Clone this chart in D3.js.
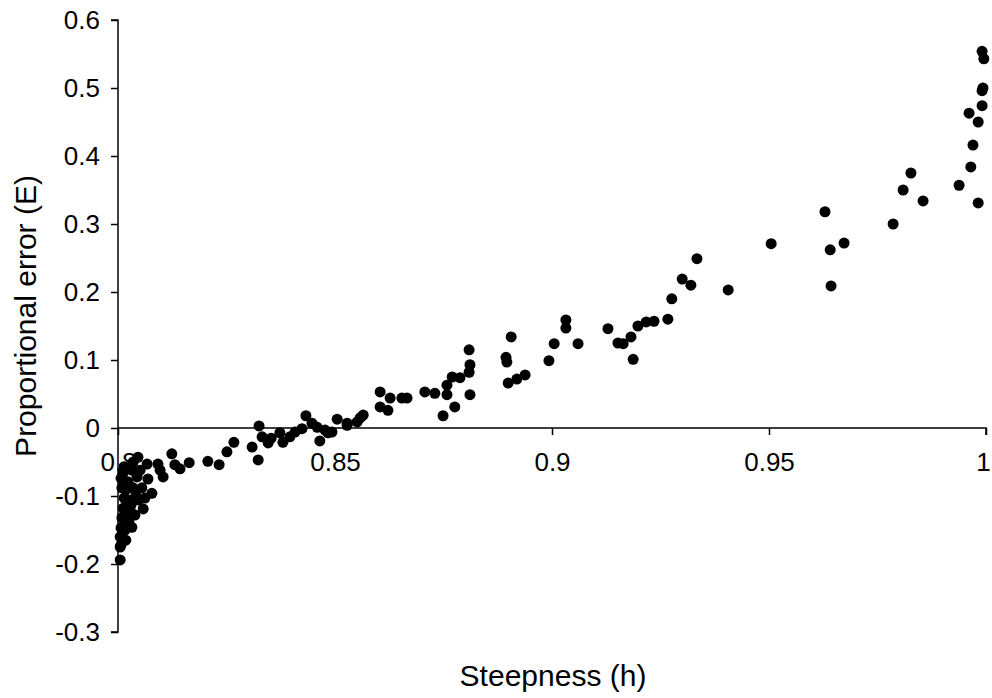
<!DOCTYPE html>
<html>
<head>
<meta charset="utf-8">
<script src="https://cdn.jsdelivr.net/npm/d3@7"></script>
<style>
  html, body { margin: 0; padding: 0; background: #fff; }
  svg { display: block; }
  text { font-family: "Liberation Sans", Arial, sans-serif; fill: #000; }
</style>
</head>
<body>
<script>
// Steepness (h) of each sample
const steepness = [
  0.9991, 0.9995, 0.9993, 0.9991, 0.9991, 0.9961, 0.9982, 0.9970, 0.9965, 0.9938,
  0.9982, 0.9827, 0.9809, 0.9855, 0.9786, 0.9629, 0.9505, 0.9673, 0.9641, 0.9643,
  0.9406, 0.9334, 0.9300, 0.9320, 0.9276, 0.9267, 0.9235, 0.9217, 0.9198, 0.9182,
  0.9129, 0.9152, 0.9164, 0.9187, 0.9032, 0.9032, 0.9005, 0.9060, 0.8993, 0.8906,
  0.8894, 0.8896, 0.8899, 0.8919, 0.8938, 0.8809, 0.8811, 0.8809, 0.8788, 0.8770,
  0.8758, 0.8758, 0.8811, 0.8776, 0.8749, 0.8730, 0.8707, 0.8666, 0.8654, 0.8604,
  0.8627, 0.8604, 0.8622, 0.8565, 0.8558, 0.8528, 0.8207, 0.8233, 0.8251, 0.8267,
  0.8309, 0.8323, 0.8325, 0.8332, 0.8346, 0.8353, 0.8373, 0.8380, 0.8396, 0.8408,
  0.8424, 0.8433, 0.8447, 0.8459, 0.8465, 0.8477, 0.8484, 0.8493, 0.8505, 0.8528,
  0.8551, 0.8046, 0.8067, 0.8092, 0.8124, 0.8131, 0.8143, 0.8164, 0.8097, 0.8104,
  0.8012, 0.8032, 0.8044, 0.8069, 0.8078, 0.8058, 0.8032, 0.8005, 0.8005, 0.8005,
  0.8007, 0.8009, 0.8012, 0.8014, 0.8009, 0.8018, 0.8023, 0.8028, 0.8021, 0.8016,
  0.8023, 0.8035, 0.8041, 0.8030, 0.8048, 0.8055, 0.8039, 0.8025, 0.8051, 0.8007,
  0.8014, 0.8035, 0.8062, 0.8007, 0.8018
];

// Proportional error (E) of each sample
const propError = [
  0.554, 0.543, 0.500, 0.496, 0.474, 0.463, 0.450, 0.416, 0.384, 0.357,
  0.331, 0.375, 0.350, 0.334, 0.300, 0.318, 0.271, 0.272, 0.262, 0.209,
  0.203, 0.249, 0.219, 0.210, 0.190, 0.160, 0.157, 0.156, 0.150, 0.134,
  0.146, 0.125, 0.124, 0.101, 0.159, 0.147, 0.124, 0.124, 0.099, 0.134,
  0.104, 0.097, 0.066, 0.072, 0.078, 0.115, 0.093, 0.082, 0.074, 0.075,
  0.063, 0.049, 0.049, 0.031, 0.018, 0.051, 0.053, 0.044, 0.044, 0.053,
  0.044, 0.031, 0.026, 0.019, 0.015, 0.004, -0.049, -0.054, -0.035, -0.021,
  -0.028, -0.047, 0.003, -0.013, -0.022, -0.015, -0.007, -0.021, -0.013, -0.006,
  -0.001, 0.018, 0.007, 0.001, -0.019, -0.003, -0.007, -0.006, 0.013, 0.007,
  0.009, -0.043, -0.053, -0.053, -0.038, -0.054, -0.060, -0.051, -0.062, -0.072,
  -0.066, -0.062, -0.072, -0.075, -0.096, -0.119, -0.146, -0.194, -0.175, -0.160,
  -0.147, -0.132, -0.118, -0.103, -0.088, -0.091, -0.106, -0.121, -0.132, -0.150,
  -0.079, -0.088, -0.099, -0.113, -0.106, -0.088, -0.128, -0.138, -0.062, -0.074,
  -0.057, -0.050, -0.103, -0.172, -0.165
];

const xTicks = [0.8, 0.85, 0.9, 0.95, 1];
const xTickLabels = ["0.8", "0.85", "0.9", "0.95", "1"];
const yTicks = [-0.3, -0.2, -0.1, 0, 0.1, 0.2, 0.3, 0.4, 0.5, 0.6];
const yTickLabels = ["-0.3", "-0.2", "-0.1", "0", "0.1", "0.2", "0.3", "0.4", "0.5", "0.6"];

const width = 992, height = 698;
const plotLeft = 118, plotRight = 986, plotTop = 20, plotBottom = 632;
const tickFont = "26px", titleFont = "30px";

const svg = d3.select("body").append("svg")
  .attr("width", width).attr("height", height);

const x = d3.scaleLinear().domain([0.8, 1]).range([plotLeft, plotRight]);
const y = d3.scaleLinear().domain([-0.3, 0.6]).range([plotBottom, plotTop]);

// Vertical axis on the left edge
const yAxis = d3.axisLeft(y)
  .tickValues(yTicks)
  .tickFormat((d, i) => yTickLabels[i])
  .tickSize(7)
  .tickPadding(11);
const gy = svg.append("g").attr("transform", `translate(${plotLeft},0)`).call(yAxis);
gy.select(".domain").attr("stroke", "#000").attr("stroke-width", 1.5)
  .attr("d", `M-7,${plotTop}H0V${plotBottom}H-7`);
gy.selectAll(".tick line").attr("stroke", "#000").attr("stroke-width", 1.5);
gy.selectAll(".tick text")
  .style("font-family", "'Liberation Sans', Arial, sans-serif")
  .style("font-size", tickFont).attr("fill", "#000");

// Horizontal axis crossing at E = 0
const xAxis = d3.axisBottom(x)
  .tickValues(xTicks)
  .tickFormat((d, i) => xTickLabels[i])
  .tickSize(7)
  .tickPadding(18);
const gx = svg.append("g").attr("transform", `translate(0,${y(0)})`).call(xAxis);
gx.select(".domain").attr("stroke", "#000").attr("stroke-width", 1.5)
  .attr("d", `M${plotLeft},0H${plotRight}V7`);
gx.selectAll(".tick line").attr("stroke", "#000").attr("stroke-width", 1.5);
gx.selectAll(".tick text")
  .style("font-family", "'Liberation Sans', Arial, sans-serif")
  .style("font-size", tickFont).attr("fill", "#000");
// keep the last label inside the page edge
gx.selectAll(".tick text").filter(d => d === 1).attr("dx", "-3");

// Scatter points
const pts = steepness.map((h, i) => ({ h, e: propError[i] }));
svg.append("g").selectAll("circle").data(pts).join("circle")
  .attr("cx", d => x(d.h))
  .attr("cy", d => y(d.e))
  .attr("r", 5.5)
  .attr("fill", "#000");

// Axis titles
svg.append("text")
  .attr("x", 553)
  .attr("y", 686)
  .attr("text-anchor", "middle")
  .style("font-size", titleFont)
  .text("Steepness (h)");

svg.append("text")
  .attr("transform", "translate(36,316) rotate(-90)")
  .attr("text-anchor", "middle")
  .style("font-size", titleFont)
  .text("Proportional error (E)");
</script>
</body>
</html>
